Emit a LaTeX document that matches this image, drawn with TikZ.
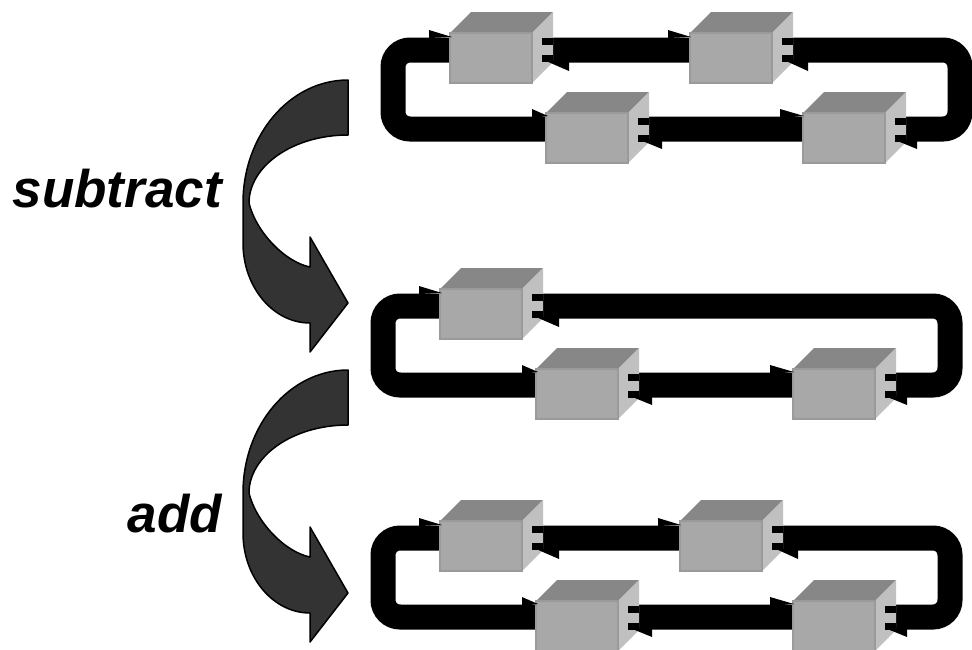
\documentclass[tikz,border=0pt]{standalone}
\usepackage{fontspec}
\setmainfont{Liberation Sans}
\definecolor{topc}{HTML}{878787}
\definecolor{sidec}{HTML}{C0C0C0}
\definecolor{frontc}{HTML}{A8A8A8}
\definecolor{frontedge}{HTML}{9A9A9A}
\definecolor{arrowc}{HTML}{333333}
\tikzset{
  track/.style={draw=black, line width=25pt, rounded corners=17pt},
  barb/.style={fill=black},
  topface/.style={fill=topc},
  sideface/.style={fill=sidec},
  frontface/.style={fill=frontc, draw=frontedge, line width=1.5pt},
  bigarrow/.style={fill=arrowc, draw=black, line width=1.5pt, line join=round},
  lbl/.style={font=\fontsize{53}{60}\selectfont\bfseries\itshape, inner sep=0pt}
}
% cube with front top-left corner at (#1,#2)
\newcommand\mycube[2]{%
  \fill[topface] (#1,#2) -- ++(21,-21) -- ++(82,0) -- ++(-21,21) -- cycle;
  \fill[sideface] (#1+82,#2) -- ++(21,-21) -- ++(0,50) -- ++(-21,21) -- cycle;
  \filldraw[frontface] (#1,#2) rectangle ++(82,50);
  \fill[black] (#1+92,#2+5) rectangle ++(11,24);
  \fill[sideface] (#1+92,#2+12) rectangle ++(11,10);
}
\newcommand\myarrow{%
  \filldraw[bigarrow] (348,80)
    .. controls (290,80) and (243,135) .. (243,203)
    -- (243,243)
    .. controls (243,287) and (273,323) .. (310,323)
    -- (310,352) -- (348,303) -- (310,237) -- (310,267)
    .. controls (285,262) and (256,232) .. (249,203)
    .. controls (249,166) and (293,135) .. (348,135)
    -- cycle;
}
\begin{document}
\begin{tikzpicture}[x=1pt,y=-1pt]
\useasboundingbox (0,0) rectangle (972,649);

% ---------- row 1 ----------
\draw[track] (393,50) rectangle (960,129);
\mycube{450}{33}
\mycube{690}{33}
\mycube{546}{113}
\mycube{803}{113}
\fill[barb] (429,30) -- (452,37) -- (429,38) -- cycle;
\fill[barb] (668,30) -- (691,37) -- (668,38) -- cycle;
\fill[barb] (532,109) -- (548,116) -- (532,118) -- cycle;
\fill[barb] (780,109) -- (804,116) -- (780,118) -- cycle;
\fill[barb] (546,61) -- (569,71) -- (569,60) -- cycle;
\fill[barb] (786,61) -- (808,71) -- (808,60) -- cycle;
\fill[barb] (640,140) -- (662,149) -- (662,139) -- cycle;
\fill[barb] (895,140) -- (917,149) -- (917,139) -- cycle;

% ---------- row 2 ----------
\begin{scope}[shift={(-10,256)}]
\draw[track] (393,50) rectangle (960,129);
\mycube{450}{33}
\mycube{546}{113}
\mycube{803}{113}
\fill[barb] (429,30) -- (452,37) -- (429,38) -- cycle;
\fill[barb] (532,109) -- (548,116) -- (532,118) -- cycle;
\fill[barb] (780,109) -- (804,116) -- (780,118) -- cycle;
\fill[barb] (546,61) -- (569,71) -- (569,60) -- cycle;
\fill[barb] (640,140) -- (662,149) -- (662,139) -- cycle;
\fill[barb] (895,140) -- (917,149) -- (917,139) -- cycle;
\end{scope}

% ---------- row 3 ----------
\begin{scope}[shift={(-10,488)}]
\draw[track] (393,50) rectangle (960,129);
\mycube{450}{33}
\mycube{690}{33}
\mycube{546}{113}
\mycube{803}{113}
\fill[barb] (429,30) -- (452,37) -- (429,38) -- cycle;
\fill[barb] (668,30) -- (691,37) -- (668,38) -- cycle;
\fill[barb] (532,109) -- (548,116) -- (532,118) -- cycle;
\fill[barb] (780,109) -- (804,116) -- (780,118) -- cycle;
\fill[barb] (546,61) -- (569,71) -- (569,60) -- cycle;
\fill[barb] (786,61) -- (808,71) -- (808,60) -- cycle;
\fill[barb] (640,140) -- (662,149) -- (662,139) -- cycle;
\fill[barb] (895,140) -- (917,149) -- (917,139) -- cycle;
\end{scope}

% ---------- curved arrows ----------
\myarrow
\begin{scope}[shift={(0,290)}]
\myarrow
\end{scope}

% ---------- labels ----------
\node[lbl, anchor=base east] (sub) at (222,207) {subtract};
\node[lbl, anchor=base east] (add) at (222,532) {add};
\end{tikzpicture}
\end{document}
